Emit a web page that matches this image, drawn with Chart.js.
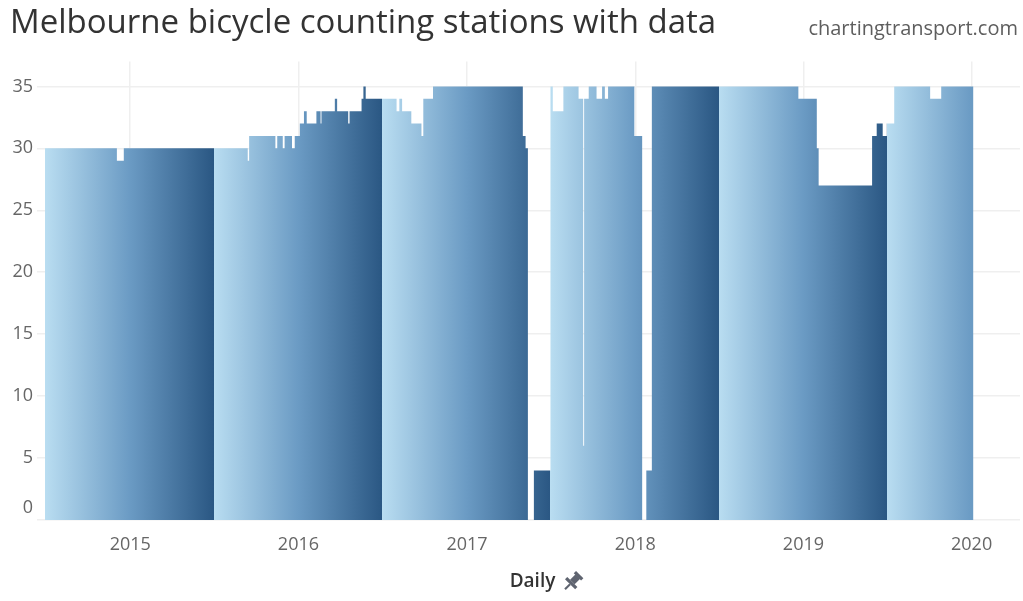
<!DOCTYPE html>
<html>
<head>
<meta charset="utf-8">
<title>Melbourne bicycle counting stations with data</title>
<script src="https://cdn.jsdelivr.net/npm/chart.js@4.4.1/dist/chart.umd.min.js"></script>
<style>
  html, body { margin: 0; padding: 0; background: #fff; }
  #wrap { position: relative; width: 1023px; height: 601px; }
</style>
</head>
<body>
<div id="wrap"><canvas id="stations"></canvas></div>
<script>
// number of stations reporting, as runs: each value holds from its start date until the next one
const runStart = [
  '2014-06-30', '2014-12-03', '2014-12-18',
  '2015-09-13', '2015-09-16', '2015-11-12', '2015-11-16', '2015-11-28', '2015-12-02',
  '2015-12-18', '2015-12-24', '2016-01-04', '2016-01-13', '2016-01-19', '2016-02-09',
  '2016-02-18', '2016-02-20', '2016-03-20', '2016-03-25', '2016-04-18', '2016-04-21',
  '2016-05-17', '2016-05-21', '2016-05-26',
  '2016-08-01', '2016-08-07', '2016-08-13', '2016-09-02', '2016-09-24', '2016-09-28',
  '2016-10-19', '2017-05-02', '2017-05-08', '2017-05-13', '2017-05-26',
  '2017-07-01', '2017-07-06', '2017-07-29', '2017-08-31', '2017-09-10', '2017-09-12',
  '2017-09-22', '2017-10-09', '2017-10-21', '2017-10-27', '2017-11-03', '2017-12-30',
  '2018-01-16', '2018-01-25', '2018-02-06',
  '2018-12-21', '2019-01-30', '2019-02-03', '2019-05-30', '2019-06-09', '2019-06-22',
  '2019-07-01', '2019-07-17', '2019-10-03', '2019-10-27'
];
const runValue = [
  30, 29, 30,
  29, 31, 30, 31, 30, 31,
  30, 31, 32, 33, 32, 33,
  32, 33, 34, 33, 32, 33,
  34, 35, 34,
  33, 34, 33, 32, 31, 34,
  35, 31, 30, 0, 4,
  35, 33, 35, 34, 6, 34,
  35, 34, 35, 34, 35, 31,
  0, 4, 35,
  34, 30, 27, 31, 32, 31,
  32, 35, 34, 35
];
const dataEnd = '2020-01-05';

const xLabels = ['2015', '2016', '2017', '2018', '2019', '2020'];
const yTicks = [0, 5, 10, 15, 20, 25, 30, 35];

// colour runs light -> dark through each financial year
const fyStarts = ['2013-07-01', '2014-07-01', '2015-07-01', '2016-07-01', '2017-07-01',
  '2018-07-01', '2019-07-01', '2020-07-01'];
const shadeStops = [[0, '#b9ddf1'], [0.5, '#6b9bc4'], [1, '#2a5783']];

const dayNum = s => Date.UTC(+s.slice(0, 4), +s.slice(5, 7) - 1, +s.slice(8, 10)) / 86400000;

const points = runStart.map((d, i) => ({ x: dayNum(d), y: runValue[i] }));
points.push({ x: dayNum(dataEnd), y: runValue[runValue.length - 1] });

const FONT = '"Open Sans", "DejaVu Sans", sans-serif';

function fyGradient(context) {
  const chart = context.chart;
  const area = chart.chartArea;
  if (!area) return null;
  const xs = chart.scales.x;
  const w = area.right - area.left;
  const g = chart.ctx.createLinearGradient(area.left, 0, area.right, 0);
  for (let i = 0; i < fyStarts.length - 1; i++) {
    const a = (xs.getPixelForValue(dayNum(fyStarts[i])) - area.left) / w;
    const b = (xs.getPixelForValue(dayNum(fyStarts[i + 1])) - area.left) / w;
    shadeStops.forEach(([t, col]) => {
      // end stop nudged left so it never ties with the next year's first stop
      const p = t === 1 ? b - 1e-5 : a + t * (b - a);
      if (p >= 0 && p <= 1) g.addColorStop(p, col);
    });
  }
  return g;
}

// source credit top right + the little pin next to "Daily"
const extras = {
  id: 'extras',
  afterDraw(chart) {
    const { ctx } = chart;
    ctx.save();
    ctx.font = '20px ' + FONT;
    ctx.fillStyle = '#5e5e5e';
    ctx.textAlign = 'right';
    ctx.textBaseline = 'middle';
    ctx.fillText('chartingtransport.com', chart.width - 5, 29);

    const xs = chart.scales.x;
    ctx.font = '600 19px ' + FONT;
    const w = ctx.measureText('Daily').width;
    const cx = (xs.left + xs.right) / 2 + w / 2 + 17;
    const cy = 582;
    ctx.translate(cx, cy);
    ctx.rotate(Math.PI / 4);
    ctx.scale(1.3, 1.3);
    ctx.fillStyle = '#5f6470';
    ctx.fillRect(-4, -8, 8, 2.5);
    ctx.fillRect(-2.5, -6, 5, 6);
    ctx.fillRect(-5.5, 0, 11, 2.5);
    ctx.fillRect(-0.8, 2.5, 1.6, 5.5);
    ctx.restore();
  }
};

new Chart(document.getElementById('stations'), {
  type: 'line',
  data: {
    datasets: [{
      data: points,
      stepped: true,
      fill: 'origin',
      borderWidth: 0,
      pointRadius: 0,
      backgroundColor: fyGradient
    }]
  },
  options: {
    responsive: true,
    maintainAspectRatio: false,
    animation: false,
    layout: { padding: { left: 10, right: 3, top: 0, bottom: 0 } },
    plugins: {
      legend: { display: false },
      tooltip: { enabled: false },
      title: {
        display: true,
        text: 'Melbourne bicycle counting stations with data',
        align: 'start',
        color: '#333',
        font: { family: FONT, size: 33, weight: 'normal', lineHeight: 1.2 },
        padding: { top: 4, bottom: 18 }
      }
    },
    scales: {
      x: {
        type: 'linear',
        min: dayNum('2014-06-30'),
        max: dayNum('2020-04-15'),
        afterBuildTicks: s => { s.ticks = xLabels.map(y => ({ value: dayNum(y + '-01-01') })); },
        afterFit: s => { s.height = 81; },
        border: { display: false },
        grid: { color: '#efefef', lineWidth: 1.5, drawTicks: false },
        ticks: {
          autoSkip: false,
          maxRotation: 0,
          padding: 14,
          color: '#666',
          font: { family: FONT, size: 18 },
          callback: (v, i) => xLabels[i]
        },
        title: {
          display: true,
          text: 'Daily',
          color: '#333',
          font: { family: FONT, size: 19, weight: '600', lineHeight: 1.2 },
          padding: { top: 0, bottom: 8 }
        }
      },
      y: {
        min: 0,
        max: 37,
        afterBuildTicks: s => { s.ticks = yTicks.map(v => ({ value: v })); },
        afterFit: s => { s.width = 35; },
        border: { display: false },
        grid: { color: '#efefef', lineWidth: 1.5, tickLength: 8 },
        ticks: {
          padding: 4,
          color: '#666',
          // the bottom label sits a bit above the baseline, pushed up with an empty 2nd line
          font: c => ({ family: FONT, size: 18, lineHeight: c.tick && c.tick.value === 0 ? 1.3 : 1.2 }),
          callback: v => (v === 0 ? ['0', ''] : String(v))
        }
      }
    }
  },
  plugins: [extras]
});
</script>
</body>
</html>
